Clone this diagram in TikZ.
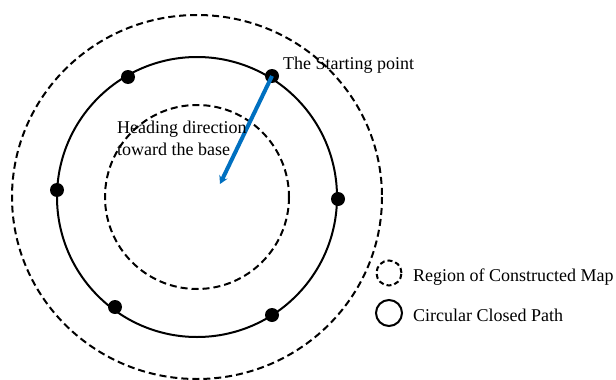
\documentclass[tikz,border=0pt]{standalone}
\usepackage{fontspec}
\setmainfont{Liberation Serif}
\usetikzlibrary{arrows.meta}
\begin{document}
\begin{tikzpicture}[x=1pt,y=-1pt,
  ring/.style={line width=2pt},
  dring/.style={line width=2pt,dash pattern=on 7pt off 4pt},
  waypt/.style={circle,fill=black,inner sep=0pt,minimum size=14pt},
  lbl/.style={font=\fontsize{18}{22}\selectfont,inner sep=0pt}]
\useasboundingbox (0,0) rectangle (616,380);
\fill[white] (0,0) rectangle (616,380);
\coordinate (c) at (197,197);
\draw[dring] (c) ellipse [x radius=185, y radius=182];
\draw[ring] (c) circle [radius=140];
\draw[dring] (c) circle [radius=92];
\node[waypt] (p1) at (272,76) {};
\node[waypt] (p2) at (128,77) {};
\node[waypt] (p3) at (57,190) {};
\node[waypt] (p4) at (338,199) {};
\node[waypt] (p5) at (115,307) {};
\node[waypt] (p6) at (272,315) {};
\coordinate (tip) at (220,184);
\draw[line width=4pt,color={rgb,255:red,0;green,112;blue,192},-{Stealth[length=8pt,width=9pt]}] (p1.center) -- (tip);
\node[lbl,anchor=base west] (start) at (283,69) {The Starting point};
\node[lbl,anchor=base west] (head1) at (117,133) {Heading direction};
\node[lbl,anchor=base west] (head2) at (117,155) {toward the base};
\node[draw,dring,circle,minimum size=25pt,inner sep=0pt,dash pattern=on 5pt off 3pt] (lg1) at (389,273) {};
\node[draw,ring,circle,minimum size=26pt,inner sep=0pt] (lg2) at (389,313) {};
\node[lbl,anchor=base west] (t1) at (413,281) {Region of Constructed Map};
\node[lbl,anchor=base west] (t2) at (413,321) {Circular Closed Path};
\end{tikzpicture}
\end{document}
